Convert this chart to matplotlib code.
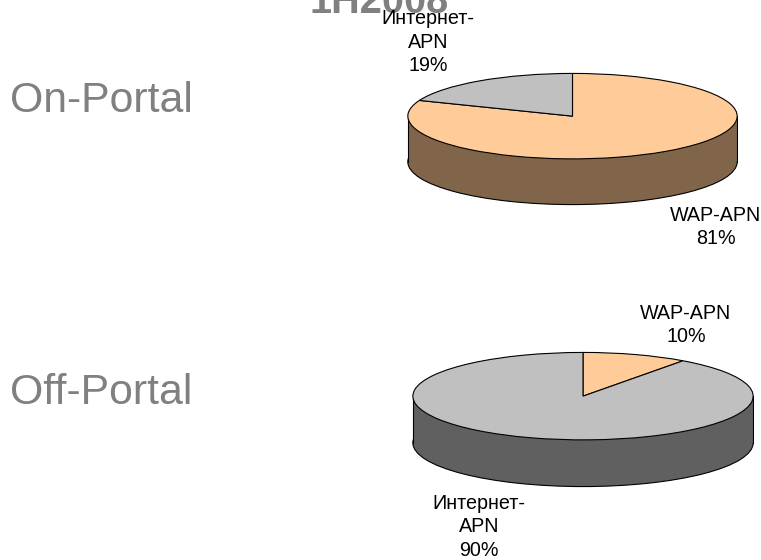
import matplotlib
matplotlib.use("Agg")
import matplotlib.pyplot as plt
from matplotlib.patches import Rectangle

plt.rcParams['font.family'] = ['Liberation Sans', 'DejaVu Sans']

W, H = 761, 560
title = "1H2008"
section_names = ["On-Portal", "Off-Portal"]
categories_on = ["WAP-APN", "Интернет-\nAPN"]
values_on = [81, 19]
categories_off = ["WAP-APN", "Интернет-\nAPN"]
values_off = [10, 90]
top_colors = ["#FFCC99", "#C0C0C0"]
side_colors = ["#80654A", "#606060"]

fig = plt.figure(figsize=(W / 100, H / 100), dpi=100, facecolor="white")


def px(x, y):
    return x / W, 1 - y / H


def pie3d(x0, x1, ytop, ybot, depth, values, side):
    h = ybot - ytop
    ax = fig.add_axes([x0 / W, 1 - (ybot + depth) / H, (x1 - x0) / W, (h + depth) / H])
    d = 2 * depth / h
    lw = 0.8
    # Side wall: a full disc shifted down plus the band joining it to the top face
    ax.pie([sum(values)], colors=[side], center=(0, -d), radius=1, startangle=90,
           wedgeprops=dict(edgecolor="black", linewidth=lw, zorder=1))
    ax.add_patch(Rectangle((-1, -d), 2, d, facecolor=side, edgecolor="none", zorder=2))
    ax.plot([-1, -1], [-d, 0], color="black", lw=lw, zorder=3)
    ax.plot([1, 1], [-d, 0], color="black", lw=lw, zorder=3)
    wedges, _ = ax.pie(values, colors=top_colors, startangle=90, counterclock=False,
                       wedgeprops=dict(edgecolor="black", linewidth=lw))
    for w in wedges:
        w.set_zorder(4)
    ax.set_aspect("auto")
    ax.set_xlim(-1.005, 1.005)
    ax.set_ylim(-1 - d - 0.01, 1.01)
    ax.axis("off")
    return ax


pie3d(407, 738, 73, 159, 46, values_on, side_colors[0])
pie3d(412, 754, 352, 440, 47, values_off, side_colors[1])

# Title, clipped by the top edge as in the reference
fig.text(*px(379, 13), title, fontsize=28.5, fontweight="bold", color="#808080",
         ha="center", va="baseline")

# Section labels
fig.text(*px(10, 112), section_names[0], fontsize=30.8, color="#808080", ha="left", va="baseline")
fig.text(*px(10, 404), section_names[1], fontsize=30.8, color="#808080", ha="left", va="baseline")

label = dict(fontsize=14.2, color="black", ha="center", va="center", linespacing=1.3)
fig.text(*px(428, 42), f"{categories_on[1]}\n{values_on[1]}%", **label)
fig.text(*px(716, 227), f"{categories_on[0]}\n{values_on[0]}%", **label)
fig.text(*px(686, 325), f"{categories_off[0]}\n{values_off[0]}%", **label)
fig.text(*px(479, 527), f"{categories_off[1]}\n{values_off[1]}%", **label)

fig.savefig("out.png", dpi=100)
